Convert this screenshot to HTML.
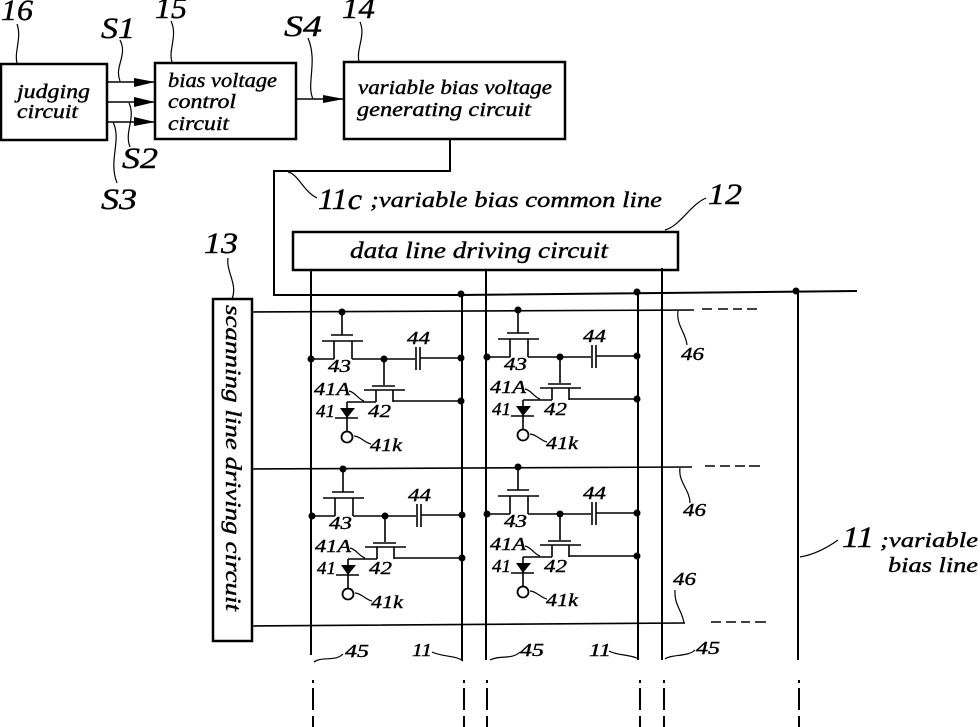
<!DOCTYPE html>
<html><head><meta charset="utf-8"><style>
html,body{margin:0;padding:0;background:#fff}
svg{display:block}
text{font-family:"Liberation Serif",serif;font-style:italic;fill:#000;stroke:#000;stroke-width:.4}
.l{fill:none;stroke:#000;stroke-width:2}
.f{fill:none;stroke:#000;stroke-width:1.6}
.t{fill:none;stroke:#000;stroke-width:1.2}
.d{fill:#000;stroke:none}
.c text{font-size:18px}
.n{font-size:30px}
.m{font-size:20px}
</style></head><body>
<svg width="980" height="727" viewBox="0 0 980 727" xmlns="http://www.w3.org/2000/svg">
<rect x="0" y="0" width="980" height="727" fill="#fff"/>
<!-- blocks -->
<rect class="l" style="stroke-width:2.5" x="1" y="64" width="106" height="76"/>
<rect class="l" style="stroke-width:2.5" x="155" y="63" width="141" height="76"/>
<rect class="l" style="stroke-width:2.5" x="344" y="62" width="221" height="77"/>
<rect class="l" style="stroke-width:2.5" x="293" y="232" width="385" height="38"/>
<rect class="l" style="stroke-width:2.5" x="213" y="299" width="39" height="342"/>
<!-- block text -->
<text class="m" x="17" y="98" textLength="73" lengthAdjust="spacingAndGlyphs">judging</text>
<text class="m" x="17" y="118" textLength="61" lengthAdjust="spacingAndGlyphs">circuit</text>
<text class="m" x="168" y="87" textLength="109" lengthAdjust="spacingAndGlyphs">bias voltage</text>
<text class="m" x="168" y="108" textLength="68" lengthAdjust="spacingAndGlyphs">control</text>
<text class="m" x="168" y="130" textLength="61" lengthAdjust="spacingAndGlyphs">circuit</text>
<text class="m" x="358" y="94" textLength="194" lengthAdjust="spacingAndGlyphs">variable bias voltage</text>
<text class="m" x="357" y="116" textLength="174" lengthAdjust="spacingAndGlyphs">generating circuit</text>
<text x="350" y="258" font-size="23" textLength="258" lengthAdjust="spacingAndGlyphs">data line driving circuit</text>
<text transform="translate(226,305) rotate(90)" font-size="22" textLength="306" lengthAdjust="spacingAndGlyphs">scanning line driving circuit</text>
<text class="n" x="318" y="209" textLength="44" lengthAdjust="spacingAndGlyphs">11c</text>
<text x="370" y="207" font-size="22" textLength="292" lengthAdjust="spacingAndGlyphs">;variable bias common line</text>
<text class="n" x="842" y="547" textLength="32" lengthAdjust="spacingAndGlyphs">11</text>
<text x="880" y="547" font-size="21" textLength="98" lengthAdjust="spacingAndGlyphs">;variable</text>
<text x="888" y="572" font-size="21" textLength="90" lengthAdjust="spacingAndGlyphs">bias line</text>
<!-- reference numerals -->
<text class="n" x="1" y="20" textLength="32" lengthAdjust="spacingAndGlyphs">16</text>
<text class="n" x="155" y="18" textLength="32" lengthAdjust="spacingAndGlyphs">15</text>
<text class="n" x="342" y="18" textLength="33" lengthAdjust="spacingAndGlyphs">14</text>
<text class="n" x="101" y="38" textLength="34" lengthAdjust="spacingAndGlyphs">S1</text>
<text class="n" x="284" y="36" textLength="38" lengthAdjust="spacingAndGlyphs">S4</text>
<text class="n" x="122" y="168" textLength="36" lengthAdjust="spacingAndGlyphs">S2</text>
<text class="n" x="101" y="209" textLength="36" lengthAdjust="spacingAndGlyphs">S3</text>
<text class="n" x="708" y="204" textLength="34" lengthAdjust="spacingAndGlyphs">12</text>
<text class="n" x="204" y="253" textLength="34" lengthAdjust="spacingAndGlyphs">13</text>
<!-- arrows -->
<path class="f" d="M107 82H155M107 102H155M107 122H155M296 99H344"/>
<path class="d" d="M134 78L155 82L134 87ZM134 97L155 102L134 107ZM134 117L155 122L134 126ZM323 95L344 99L323 103Z"/>
<!-- leaders -->
<path class="t" d="M17 63C14 52 22 38 17 24M172 62C168 50 178 36 171 21M120 81C114 66 128 56 120 40M313 99C306 84 318 62 308 38M359 62C356 48 366 36 360 22M129 103C136 118 124 132 130 147M113 122C122 140 108 160 117 183M288 172C298 174 304 192 317 198M665 230C680 226 690 205 706 198M232 299C238 284 226 272 228 258"/>
<!-- common line -->
<path class="l" d="M450 139V171H274V295L460 295L857 291"/>
<circle class="d" cx="461" cy="294" r="3.5"/>
<circle class="d" cx="637" cy="292" r="3.5"/>
<circle class="d" cx="796" cy="291" r="3.5"/>
<!-- verticals -->
<path class="l" d="M311 270V655M462 293V660M486 270V660M638 291V660M662 268V660M798 291V660"/>
<path class="l" d="M313 680v3M313 688V710M313 716V727M464 680v3M464 688V710M464 716V727M487 680v3M487 688V710M487 716V727M640 680v3M640 688V710M640 716V727M664 680v3M664 688V710M664 716V727M799 680v3M799 688V710M799 716V727"/>
<!-- scan lines -->
<path class="f" d="M251 312L694 310M702 309H712M718 309H728M733 309H742M747 309H757M251 469L692 467M705 466H715M720 466H730M735 466H745M749 466H760M251 626L685 623M711 622H721M726 622H736M741 622H750M755 622H766"/>
<path class="t" d="M678 311C676 325 686 333 687 345M680 468C678 482 690 490 690 503M675 590C674 605 682 610 684 623"/>
<g class="c">
<text x="681" y="360" textLength="23" lengthAdjust="spacingAndGlyphs">46</text>
<text x="683" y="516" textLength="23" lengthAdjust="spacingAndGlyphs">46</text>
<text x="673" y="585" textLength="23" lengthAdjust="spacingAndGlyphs">46</text>
<text x="345" y="657" textLength="24" lengthAdjust="spacingAndGlyphs">45</text>
<text x="412" y="656" textLength="20" lengthAdjust="spacingAndGlyphs">11</text>
<text x="520" y="656" textLength="24" lengthAdjust="spacingAndGlyphs">45</text>
<text x="589" y="656" textLength="22" lengthAdjust="spacingAndGlyphs">11</text>
<text x="696" y="654" textLength="24" lengthAdjust="spacingAndGlyphs">45</text>
</g>
<path class="t" d="M314 662C322 656 335 662 343 654M432 652C442 657 455 655 463 661M490 660C498 655 512 660 520 652M609 651C618 656 630 654 639 659M665 659C672 654 688 657 695 650M800 557C812 555 824 550 838 540"/>
<!-- cells -->
<g class="c" transform="translate(0,0)">
<path class="f" d="M342 312V335M331 335H353M322 341H363M334 341V359M352 341V359M311 359H334M352 359H415M420 358H461M416 347V370M420 347V370M384 359V385M372 386H395M364 390H405M376 390V402M393 390V402M347 402H376M393 401H461M347 402V431M335 418H358"/>
<path class="d" d="M340 408H355L347 418Z"/><circle cx="347" cy="437" r="5.5" fill="#fff" stroke="#000" stroke-width="1.8"/>
<path class="t" d="M349 391C355 392 358 399 364 401M354 436C360 436 365 443 371 444"/>
<circle class="d" cx="342" cy="312" r="3.5"/><circle class="d" cx="311" cy="359" r="3.5"/><circle class="d" cx="384" cy="359" r="3.5"/><circle class="d" cx="461" cy="358" r="3.5"/><circle class="d" cx="461" cy="401" r="3.5"/>
<text x="328" y="372" textLength="23" lengthAdjust="spacingAndGlyphs">43</text><text x="407" y="344" textLength="23" lengthAdjust="spacingAndGlyphs">44</text><text x="314" y="395" textLength="36" lengthAdjust="spacingAndGlyphs">41A</text><text x="368" y="417" textLength="23" lengthAdjust="spacingAndGlyphs">42</text><text x="316" y="417" textLength="19" lengthAdjust="spacingAndGlyphs">41</text><text x="370" y="451" textLength="32" lengthAdjust="spacingAndGlyphs">41k</text>
</g>
<g class="c" transform="translate(176,-2)">
<path class="f" d="M342 312V335M331 335H353M322 341H363M334 341V359M352 341V359M311 359H334M352 359H415M420 358H461M416 347V370M420 347V370M384 359V385M372 386H395M364 390H405M376 390V402M393 390V402M347 402H376M393 401H461M347 402V431M335 418H358"/>
<path class="d" d="M340 408H355L347 418Z"/><circle cx="347" cy="437" r="5.5" fill="#fff" stroke="#000" stroke-width="1.8"/>
<path class="t" d="M349 391C355 392 358 399 364 401M354 436C360 436 365 443 371 444"/>
<circle class="d" cx="342" cy="312" r="3.5"/><circle class="d" cx="311" cy="359" r="3.5"/><circle class="d" cx="384" cy="359" r="3.5"/><circle class="d" cx="461" cy="358" r="3.5"/><circle class="d" cx="461" cy="401" r="3.5"/>
<text x="328" y="372" textLength="23" lengthAdjust="spacingAndGlyphs">43</text><text x="407" y="344" textLength="23" lengthAdjust="spacingAndGlyphs">44</text><text x="314" y="395" textLength="36" lengthAdjust="spacingAndGlyphs">41A</text><text x="368" y="417" textLength="23" lengthAdjust="spacingAndGlyphs">42</text><text x="316" y="417" textLength="19" lengthAdjust="spacingAndGlyphs">41</text><text x="370" y="451" textLength="32" lengthAdjust="spacingAndGlyphs">41k</text>
</g>
<g class="c" transform="translate(1,157)">
<path class="f" d="M342 312V335M331 335H353M322 341H363M334 341V359M352 341V359M311 359H334M352 359H415M420 358H461M416 347V370M420 347V370M384 359V385M372 386H395M364 390H405M376 390V402M393 390V402M347 402H376M393 401H461M347 402V431M335 418H358"/>
<path class="d" d="M340 408H355L347 418Z"/><circle cx="347" cy="437" r="5.5" fill="#fff" stroke="#000" stroke-width="1.8"/>
<path class="t" d="M349 391C355 392 358 399 364 401M354 436C360 436 365 443 371 444"/>
<circle class="d" cx="342" cy="312" r="3.5"/><circle class="d" cx="311" cy="359" r="3.5"/><circle class="d" cx="384" cy="359" r="3.5"/><circle class="d" cx="461" cy="358" r="3.5"/><circle class="d" cx="461" cy="401" r="3.5"/>
<text x="328" y="372" textLength="23" lengthAdjust="spacingAndGlyphs">43</text><text x="407" y="344" textLength="23" lengthAdjust="spacingAndGlyphs">44</text><text x="314" y="395" textLength="36" lengthAdjust="spacingAndGlyphs">41A</text><text x="368" y="417" textLength="23" lengthAdjust="spacingAndGlyphs">42</text><text x="316" y="417" textLength="19" lengthAdjust="spacingAndGlyphs">41</text><text x="370" y="451" textLength="32" lengthAdjust="spacingAndGlyphs">41k</text>
</g>
<g class="c" transform="translate(176,155)">
<path class="f" d="M342 312V335M331 335H353M322 341H363M334 341V359M352 341V359M311 359H334M352 359H415M420 358H461M416 347V370M420 347V370M384 359V385M372 386H395M364 390H405M376 390V402M393 390V402M347 402H376M393 401H461M347 402V431M335 418H358"/>
<path class="d" d="M340 408H355L347 418Z"/><circle cx="347" cy="437" r="5.5" fill="#fff" stroke="#000" stroke-width="1.8"/>
<path class="t" d="M349 391C355 392 358 399 364 401M354 436C360 436 365 443 371 444"/>
<circle class="d" cx="342" cy="312" r="3.5"/><circle class="d" cx="311" cy="359" r="3.5"/><circle class="d" cx="384" cy="359" r="3.5"/><circle class="d" cx="461" cy="358" r="3.5"/><circle class="d" cx="461" cy="401" r="3.5"/>
<text x="328" y="372" textLength="23" lengthAdjust="spacingAndGlyphs">43</text><text x="407" y="344" textLength="23" lengthAdjust="spacingAndGlyphs">44</text><text x="314" y="395" textLength="36" lengthAdjust="spacingAndGlyphs">41A</text><text x="368" y="417" textLength="23" lengthAdjust="spacingAndGlyphs">42</text><text x="316" y="417" textLength="19" lengthAdjust="spacingAndGlyphs">41</text><text x="370" y="451" textLength="32" lengthAdjust="spacingAndGlyphs">41k</text>
</g>
</svg>
</body></html>
